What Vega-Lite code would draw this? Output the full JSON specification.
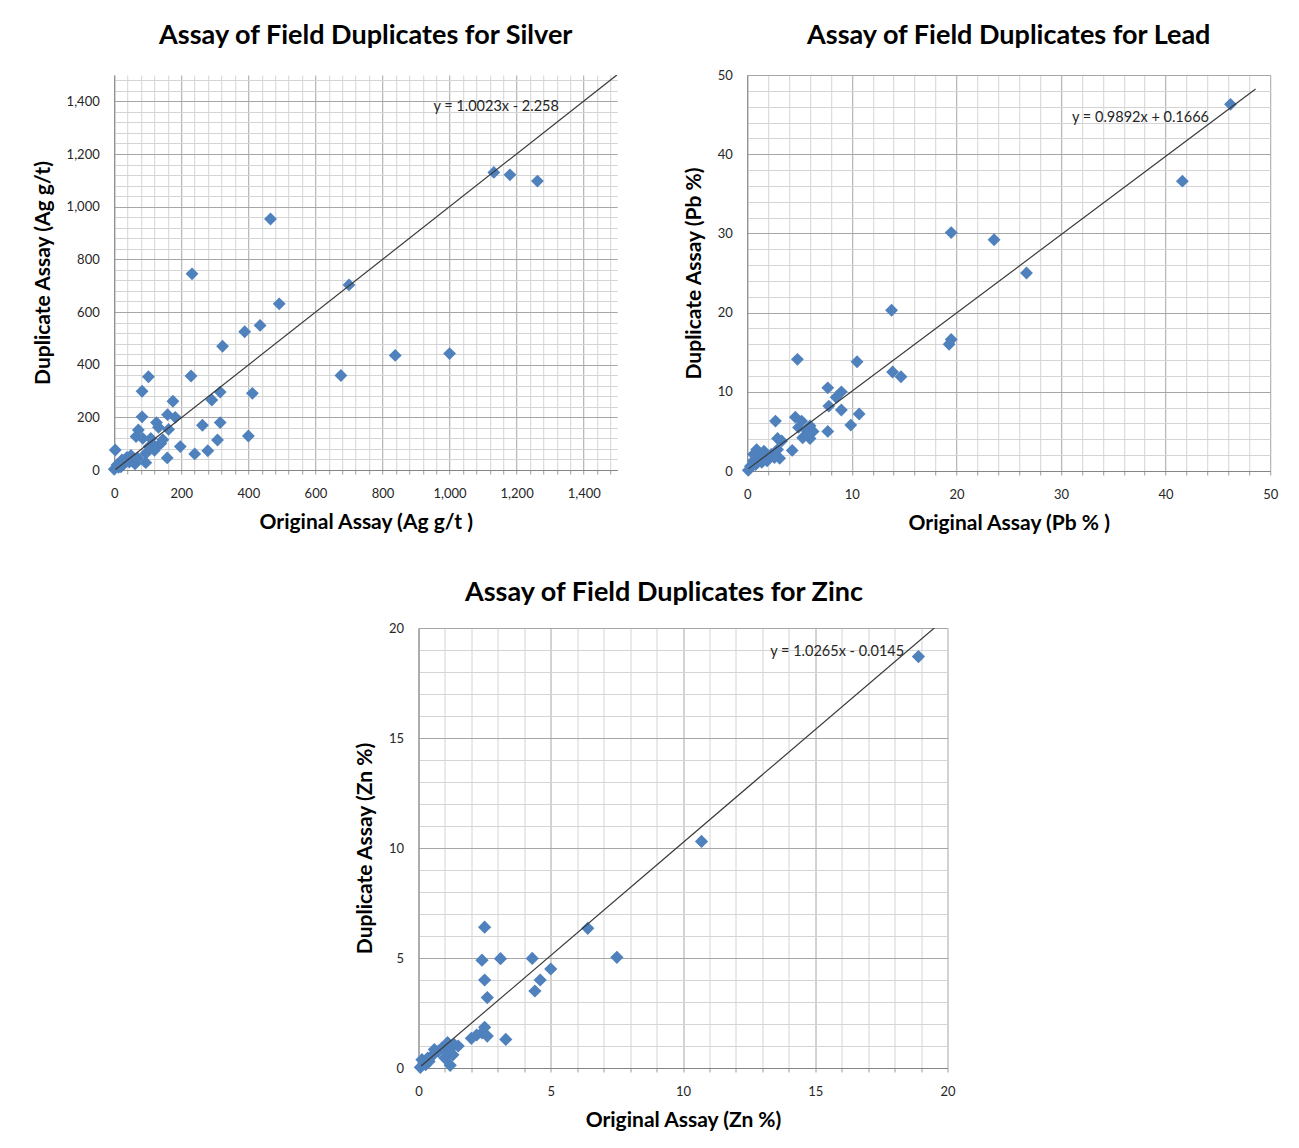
{
  "$schema": "https://vega.github.io/schema/vega-lite/v6.json",
  "background": "white",
  "padding": {"left": 32, "top": 22, "right": 20, "bottom": 5},
  "config": {
    "font": "Lato",
    "view": {"stroke": null},
    "axis": {
      "labelFont": "Lato", "labelFontSize": 13, "labelColor": "#262626",
      "titleFont": "Lato", "titleFontWeight": "bold", "titleFontSize": 21, "titleColor": "#000000",
      "domainColor": "#868686", "tickColor": "#9a9a9a", "tickSize": 4, "tickCount": 200,
      "labelFlush": false, "labelOverlap": false, "labelBound": false, "grid": true
    },
    "axisX": {"labelPadding": 13, "titlePadding": 11},
    "axisY": {"labelPadding": 15, "titlePadding": 13},
    "title": {"font": "Lato", "fontSize": 27, "fontWeight": "bold", "color": "#000000", "offset": 24, "frame": "group"}
  },
  "datasets": {
    "silver": [
      {"orig": 1132, "dup": 1130}, {"orig": 1180, "dup": 1121}, {"orig": 1262, "dup": 1097},
      {"orig": 466, "dup": 953}, {"orig": 232, "dup": 745}, {"orig": 700, "dup": 703},
      {"orig": 492, "dup": 631}, {"orig": 435, "dup": 549}, {"orig": 389, "dup": 525},
      {"orig": 323, "dup": 470}, {"orig": 838, "dup": 435}, {"orig": 1000, "dup": 442},
      {"orig": 676, "dup": 359}, {"orig": 102, "dup": 354}, {"orig": 229, "dup": 357},
      {"orig": 83, "dup": 299}, {"orig": 316, "dup": 296}, {"orig": 412, "dup": 291},
      {"orig": 291, "dup": 266}, {"orig": 175, "dup": 261}, {"orig": 83, "dup": 202},
      {"orig": 159, "dup": 210}, {"orig": 182, "dup": 200}, {"orig": 126, "dup": 180},
      {"orig": 132, "dup": 162}, {"orig": 263, "dup": 170}, {"orig": 316, "dup": 180},
      {"orig": 162, "dup": 154}, {"orig": 72, "dup": 152}, {"orig": 65, "dup": 127},
      {"orig": 85, "dup": 120}, {"orig": 109, "dup": 120}, {"orig": 139, "dup": 101},
      {"orig": 124, "dup": 88}, {"orig": 308, "dup": 114}, {"orig": 400, "dup": 129},
      {"orig": 197, "dup": 89}, {"orig": 279, "dup": 73}, {"orig": 240, "dup": 61},
      {"orig": 158, "dup": 46}, {"orig": 3, "dup": 76}, {"orig": 94, "dup": 28},
      {"orig": 62, "dup": 23}, {"orig": 38, "dup": 48}, {"orig": 23, "dup": 38},
      {"orig": 8, "dup": 19}, {"orig": 0, "dup": 3}, {"orig": 13, "dup": 10},
      {"orig": 94, "dup": 63}, {"orig": 104, "dup": 89}, {"orig": 50, "dup": 55},
      {"orig": 30, "dup": 25}, {"orig": 45, "dup": 30}, {"orig": 20, "dup": 12},
      {"orig": 55, "dup": 40}, {"orig": 70, "dup": 45}, {"orig": 115, "dup": 95},
      {"orig": 145, "dup": 115}, {"orig": 120, "dup": 75}
    ],
    "silverTrend": [{"orig": 4, "dup": 1.75}, {"orig": 1500, "dup": 1501.2}],
    "lead": [
      {"orig": 46.2, "dup": 46.3}, {"orig": 41.6, "dup": 36.6}, {"orig": 19.5, "dup": 30.1},
      {"orig": 23.6, "dup": 29.2}, {"orig": 26.7, "dup": 25.0}, {"orig": 13.8, "dup": 20.3},
      {"orig": 19.5, "dup": 16.6}, {"orig": 19.3, "dup": 16.0}, {"orig": 4.8, "dup": 14.1},
      {"orig": 10.5, "dup": 13.8}, {"orig": 13.9, "dup": 12.5}, {"orig": 14.7, "dup": 11.9},
      {"orig": 7.7, "dup": 10.5}, {"orig": 9.0, "dup": 10.0}, {"orig": 8.5, "dup": 9.3},
      {"orig": 7.8, "dup": 8.2}, {"orig": 9.0, "dup": 7.7}, {"orig": 10.7, "dup": 7.2},
      {"orig": 9.9, "dup": 5.8}, {"orig": 7.7, "dup": 5.0}, {"orig": 2.7, "dup": 6.3},
      {"orig": 4.6, "dup": 6.8}, {"orig": 5.2, "dup": 6.3}, {"orig": 6.0, "dup": 5.7},
      {"orig": 5.7, "dup": 5.1}, {"orig": 6.3, "dup": 5.0}, {"orig": 5.3, "dup": 4.2},
      {"orig": 6.0, "dup": 4.1}, {"orig": 2.9, "dup": 4.1}, {"orig": 3.3, "dup": 3.8},
      {"orig": 4.3, "dup": 2.6}, {"orig": 2.9, "dup": 2.7}, {"orig": 0.9, "dup": 2.7},
      {"orig": 1.6, "dup": 2.5}, {"orig": 2.3, "dup": 2.1}, {"orig": 3.1, "dup": 1.6},
      {"orig": 1.3, "dup": 1.7}, {"orig": 0.6, "dup": 1.3}, {"orig": 1.9, "dup": 1.3},
      {"orig": 0.3, "dup": 0.6}, {"orig": 0.1, "dup": 0.1}, {"orig": 0.8, "dup": 0.8},
      {"orig": 1.4, "dup": 1.1}, {"orig": 2.6, "dup": 1.7}, {"orig": 0.6, "dup": 2.1},
      {"orig": 4.9, "dup": 5.5}, {"orig": 5.8, "dup": 4.6}
    ],
    "leadTrend": [{"orig": 0.1, "dup": 0.266}, {"orig": 48.6, "dup": 48.24}],
    "zinc": [
      {"orig": 18.9, "dup": 18.7}, {"orig": 10.7, "dup": 10.3}, {"orig": 2.5, "dup": 6.4},
      {"orig": 6.4, "dup": 6.35}, {"orig": 2.4, "dup": 4.9}, {"orig": 3.1, "dup": 4.97},
      {"orig": 4.3, "dup": 4.98}, {"orig": 7.5, "dup": 5.03}, {"orig": 5.0, "dup": 4.5},
      {"orig": 2.5, "dup": 4.0}, {"orig": 4.6, "dup": 4.0}, {"orig": 2.6, "dup": 3.2},
      {"orig": 4.4, "dup": 3.5}, {"orig": 2.5, "dup": 1.85}, {"orig": 2.4, "dup": 1.6},
      {"orig": 2.6, "dup": 1.45}, {"orig": 2.0, "dup": 1.35}, {"orig": 3.3, "dup": 1.3},
      {"orig": 2.2, "dup": 1.5}, {"orig": 1.5, "dup": 1.0}, {"orig": 1.1, "dup": 1.15},
      {"orig": 1.2, "dup": 0.12}, {"orig": 1.0, "dup": 0.45}, {"orig": 0.75, "dup": 0.76},
      {"orig": 0.55, "dup": 0.6}, {"orig": 0.35, "dup": 0.45}, {"orig": 0.2, "dup": 0.23},
      {"orig": 0.07, "dup": 0.03}, {"orig": 0.27, "dup": 0.15}, {"orig": 0.6, "dup": 0.84},
      {"orig": 0.88, "dup": 0.9}, {"orig": 1.15, "dup": 0.8}, {"orig": 1.3, "dup": 0.6},
      {"orig": 0.13, "dup": 0.38}, {"orig": 0.4, "dup": 0.3}, {"orig": 1.35, "dup": 1.06}
    ],
    "zincTrend": [{"orig": 0.1, "dup": 0.088}, {"orig": 19.5, "dup": 20.0}]
  },
  "spacing": 46,
  "center": true,
  "vconcat": [
    {
      "spacing": 65,
      "hconcat": [
        {
          "title": "Assay of Field Duplicates for Silver",
          "width": 503,
          "height": 395,
          "layer": [
            {
              "data": {"name": "silver"},
              "mark": {"type": "point", "shape": "diamond", "filled": true, "size": 165, "color": "#4f81bd", "opacity": 1},
              "encoding": {
                "x": {
                  "field": "orig", "type": "quantitative",
                  "scale": {"domain": [0, 1500], "nice": false, "zero": false},
                  "axis": {
                    "title": "Original Assay (Ag g/t )", "format": ",d",
                    "values": [0,40,80,120,160,200,240,280,320,360,400,440,480,520,560,600,640,680,720,760,800,840,880,920,960,1000,1040,1080,1120,1160,1200,1240,1280,1320,1360,1400,1440,1480],
                    "labelExpr": "datum.value % 200 === 0 ? datum.label : ''",
                    "gridColor": {"condition": {"test": "datum.value % 200 === 0", "value": "#a6a6a6"}, "value": "#d4d4d4"}
                  }
                },
                "y": {
                  "field": "dup", "type": "quantitative",
                  "scale": {"domain": [0, 1500], "nice": false, "zero": false},
                  "axis": {
                    "title": "Duplicate Assay (Ag g/t)", "format": ",d",
                    "values": [0,40,80,120,160,200,240,280,320,360,400,440,480,520,560,600,640,680,720,760,800,840,880,920,960,1000,1040,1080,1120,1160,1200,1240,1280,1320,1360,1400,1440,1480],
                    "labelExpr": "datum.value % 200 === 0 ? datum.label : ''",
                    "gridColor": {"condition": {"test": "datum.value % 200 === 0", "value": "#a6a6a6"}, "value": "#d4d4d4"},
                    "tickSize": 0
                  }
                }
              }
            },
            {
              "data": {"name": "silverTrend"},
              "mark": {"type": "line", "color": "#3a3a3a", "strokeWidth": 1.2, "clip": true},
              "encoding": {
                "x": {"field": "orig", "type": "quantitative"},
                "y": {"field": "dup", "type": "quantitative"}
              }
            },
            {
              "data": {"values": [{}]},
              "mark": {"type": "text", "fontSize": 14.5, "color": "#262626", "font": "Lato"},
              "encoding": {
                "x": {"datum": 1139},
                "y": {"datum": 1378},
                "text": {"value": "y = 1.0023x - 2.258"}
              }
            }
          ]
        },
        {
          "title": {"text": "Assay of Field Duplicates for Lead", "offset": 19},
          "width": 523,
          "height": 396,
          "layer": [
            {
              "data": {"name": "lead"},
              "mark": {"type": "point", "shape": "diamond", "filled": true, "size": 165, "color": "#4f81bd", "opacity": 1},
              "encoding": {
                "x": {
                  "field": "orig", "type": "quantitative",
                  "scale": {"domain": [0, 50], "nice": false, "zero": false},
                  "axis": {
                    "title": "Original Assay (Pb % )", "format": "d",
                    "values": [0,2,4,6,8,10,12,14,16,18,20,22,24,26,28,30,32,34,36,38,40,42,44,46,48,50],
                    "labelExpr": "datum.value % 10 === 0 ? datum.label : ''",
                    "gridColor": {"condition": {"test": "datum.value % 10 === 0", "value": "#a6a6a6"}, "value": "#d4d4d4"}
                  }
                },
                "y": {
                  "field": "dup", "type": "quantitative",
                  "scale": {"domain": [0, 50], "nice": false, "zero": false},
                  "axis": {
                    "title": "Duplicate Assay (Pb %)", "format": "d",
                    "values": [0,2,4,6,8,10,12,14,16,18,20,22,24,26,28,30,32,34,36,38,40,42,44,46,48,50],
                    "labelExpr": "datum.value % 10 === 0 ? datum.label : ''",
                    "gridColor": {"condition": {"test": "datum.value % 10 === 0", "value": "#a6a6a6"}, "value": "#d4d4d4"},
                    "tickSize": 0
                  }
                }
              }
            },
            {
              "data": {"name": "leadTrend"},
              "mark": {"type": "line", "color": "#3a3a3a", "strokeWidth": 1.2, "clip": true},
              "encoding": {
                "x": {"field": "orig", "type": "quantitative"},
                "y": {"field": "dup", "type": "quantitative"}
              }
            },
            {
              "data": {"values": [{}]},
              "mark": {"type": "text", "fontSize": 14.5, "color": "#262626", "font": "Lato"},
              "encoding": {
                "x": {"datum": 37.6},
                "y": {"datum": 44.6},
                "text": {"value": "y = 0.9892x + 0.1666"}
              }
            }
          ]
        }
      ]
    },
    {
      "title": {"text": "Assay of Field Duplicates for Zinc", "frame": "bounds", "offset": 15},
      "width": 529,
      "height": 440,
      "resolve": {"axis": {"y": "independent"}},
      "layer": [
        {
          "data": {"name": "zinc"},
          "mark": {"type": "point", "shape": "diamond", "filled": true, "size": 175, "color": "#4f81bd", "opacity": 1},
          "encoding": {
            "x": {
              "field": "orig", "type": "quantitative",
              "scale": {"domain": [0, 20], "nice": false, "zero": false},
              "axis": {
                "title": "Original Assay (Zn %)", "format": "d",
                "values": [0,1,2,3,4,5,6,7,8,9,10,11,12,13,14,15,16,17,18,19,20],
                "labelExpr": "datum.value % 5 === 0 ? datum.label : ''",
                "gridColor": {"condition": {"test": "datum.value % 5 === 0", "value": "#a6a6a6"}, "value": "#d4d4d4"}
              }
            },
            "y": {
              "field": "dup", "type": "quantitative",
              "scale": {"domain": [0, 20], "nice": false, "zero": false},
              "axis": {
                "title": "Duplicate Assay (Zn %)", "format": "d", "orient": "left",
                "values": [0,1,2,3,4,5,6,7,8,9,10,11,12,13,14,15,16,17,18,19,20],
                "labelExpr": "datum.value % 5 === 0 ? datum.label : ''",
                "gridColor": {"condition": {"test": "datum.value % 5 === 0", "value": "#a6a6a6"}, "value": "#d4d4d4"},
                "tickSize": 0
              }
            }
          }
        },
        {
          "data": {"name": "zincTrend"},
          "mark": {"type": "line", "color": "#3a3a3a", "strokeWidth": 1.2, "clip": true},
          "encoding": {
            "x": {"field": "orig", "type": "quantitative"},
            "y": {
              "field": "dup", "type": "quantitative",
              "axis": {"orient": "right", "title": null, "labels": false, "ticks": false, "domain": false, "grid": false, "minExtent": 26}
            }
          }
        },
        {
          "data": {"values": [{}]},
          "mark": {"type": "text", "fontSize": 14.5, "color": "#262626", "font": "Lato"},
          "encoding": {
            "x": {"datum": 15.83},
            "y": {"datum": 18.9, "axis": null},
            "text": {"value": "y = 1.0265x - 0.0145"}
          }
        }
      ]
    }
  ]
}
